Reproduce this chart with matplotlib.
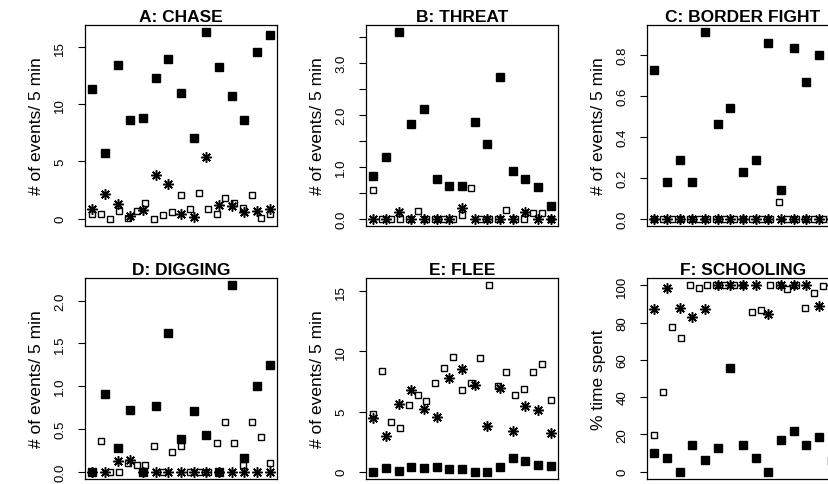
import numpy as np
import matplotlib.pyplot as plt
from matplotlib.ticker import FixedLocator, FixedFormatter

plt.rcParams['font.family'] = ['Liberation Sans', 'DejaVu Sans']

# filled squares and asterisks: 15 values each, open squares: 21 values
chase_solid = [11.35, 5.73, 13.45, 8.65, 8.83, 12.34, 13.95, 11.0, 7.02, 16.3, 13.3, 10.76, 8.6, 14.6, 16.1]
chase_open = [0.38, 0.38, 0.0, 0.67, 0.09, 0.67, 1.37, 0.0, 0.32, 0.61, 2.1, 0.85, 2.28, 0.82, 0.41, 1.84, 1.37, 0.9, 2.1, 0.09, 0.38]
chase_star = [0.88, 2.19, 1.26, 0.23, 0.76, 3.83, 3.04, 0.44, 0.18, 5.4, 1.2, 1.11, 0.61, 0.67, 0.82]

threat_solid = [0.82, 1.19, 3.58, 1.82, 2.10, 0.77, 0.62, 0.62, 1.86, 1.43, 2.72, 0.92, 0.76, 0.60, 0.24]
threat_open = [0.54, 0, 0, 0, 0, 0.15, 0, 0, 0, 0, 0.07, 0.58, 0, 0, 0, 0.17, 0, 0, 0.1, 0.1, 0]
threat_star = [0, 0, 0.13, 0, 0, 0, 0, 0.21, 0, 0, 0, 0, 0.13, 0, 0]

fight_solid = [0.728, 0.181, 0.286, 0.181, 0.911, 0.462, 0.539, 0.230, 0.286, 0.859, 0.142, 0.836, 0.668, 0.802, 0]
fight_open = [0, 0, 0, 0, 0, 0, 0, 0, 0, 0, 0, 0, 0, 0, 0.083, 0, 0, 0, 0, 0, 0.127]
fight_star = [0, 0, 0, 0, 0, 0, 0, 0, 0, 0, 0, 0, 0, 0, 0]

dig_solid = [0, 0.906, 0.28, 0.72, 0, 0.77, 1.62, 0.38, 0.71, 0.43, 0, 2.18, 0.156, 1.0, 1.25]
dig_open = [0, 0.355, 0, 0, 0.105, 0.074, 0.074, 0.305, 0, 0.227, 0.305, 0, 0, 0, 0.33, 0.58, 0.33, 0.074, 0.58, 0.41, 0.105]
dig_star = [0, 0, 0.125, 0.137, 0, 0, 0, 0, 0, 0, 0, 0, 0, 0, 0]

flee_solid = [0, 0.33, 0.08, 0.42, 0.28, 0.36, 0.2, 0.2, 0, 0, 0.39, 1.11, 0.86, 0.56, 0.45]
flee_open = [4.82, 8.38, 4.09, 3.65, 5.54, 6.41, 5.9, 7.38, 8.6, 9.55, 6.8, 7.35, 9.44, 15.5, 7.1, 8.27, 6.4, 6.88, 8.27, 8.94, 5.99]
flee_star = [4.46, 2.98, 5.6, 6.82, 5.24, 4.54, 7.8, 8.58, 7.21, 3.76, 6.99, 3.34, 5.49, 5.15, 3.2]

school_solid = [10.2, 7.2, 0, 14.4, 6.3, 12.6, 55.7, 14.4, 7.2, 0, 17.1, 21.9, 14.5, 18.5, 5.7]
school_open = [19.7, 42.9, 77.5, 71.5, 100, 98.7, 100, 100, 100, 100, 100, 86, 87, 100, 100, 98.2, 100, 88, 96, 99.5, 100]
school_star = [87.1, 98.7, 88, 83, 87.4, 100, 100, 100, 100, 84.4, 100, 100, 100, 88.8, 100]

titles = ['A: CHASE', 'B: THREAT', 'C: BORDER FIGHT', 'D: DIGGING', 'E: FLEE', 'F: SCHOOLING']
ylabels = ['# of events/ 5 min'] * 5 + ['% time spent']
panels = [(chase_solid, chase_open, chase_star),
          (threat_solid, threat_open, threat_star),
          (fight_solid, fight_open, fight_star),
          (dig_solid, dig_open, dig_star),
          (flee_solid, flee_open, flee_star),
          (school_solid, school_open, school_star)]
# tick positions and which ones get a label
yticks = [[0, 5, 10, 15],
          [0, 0.5, 1, 1.5, 2, 2.5, 3, 3.5],
          [0, 0.2, 0.4, 0.6, 0.8],
          [0, 0.5, 1, 1.5, 2],
          [0, 5, 10, 15],
          [0, 20, 40, 60, 80, 100]]
yticklabels = [['0', '5', '10', '15'],
               ['0.0', '', '1.0', '', '2.0', '', '3.0', ''],
               ['0.0', '0.2', '0.4', '0.6', '0.8'],
               ['0.0', '0.5', '1.0', '1.5', '2.0'],
               ['0', '5', '10', '15'],
               ['0', '20', '40', '60', '80', '100']]

W, H = 829, 485
fig = plt.figure(figsize=(W / 100, H / 100), dpi=100)

lefts = [85, 366, 647]
tops = [26, 279]
aw, ah = 192, 201

for i in range(6):
    r, c = divmod(i, 3)
    ax = fig.add_axes([lefts[c] / W, 1 - (tops[r] + ah) / H, aw / W, ah / H])
    solid, opn, star = panels[i]
    x15 = np.arange(1, len(solid) + 1)
    x21 = np.linspace(1, len(solid), len(opn))
    ax.plot(x15, solid, ls='none', marker='s', ms=5.2, color='black')
    ax.plot(x21, opn, ls='none', marker='s', ms=5, mfc='none', mec='black', mew=1)
    ax.plot(x15, star, ls='none', marker=(8, 2, 0), ms=7.5, mew=1.1, color='black')

    # R style 4% padding
    allv = np.concatenate([solid, opn, star])
    lo, hi = allv.min(), allv.max()
    ax.set_ylim(lo - 0.04 * (hi - lo), hi + 0.04 * (hi - lo))
    ax.set_xlim(1 - 0.04 * 14, 15 + 0.04 * 14)

    ax.set_xticks([])
    ax.yaxis.set_major_locator(FixedLocator(yticks[i]))
    ax.yaxis.set_major_formatter(FixedFormatter(yticklabels[i]))
    ax.tick_params(axis='y', direction='out', length=5, width=0.8, labelsize=9.5, pad=8.5)
    for lab in ax.get_yticklabels():
        lab.set_rotation(90)
        lab.set_va('center')
    for s in ax.spines.values():
        s.set_linewidth(0.9)

    ax.set_title(titles[i], fontsize=12.5, fontweight='bold', pad=3)
    ax.set_ylabel(ylabels[i], fontsize=12.5)
    ax.yaxis.set_label_coords(-0.215, 0.5)

fig.savefig('out.png', dpi=100)
